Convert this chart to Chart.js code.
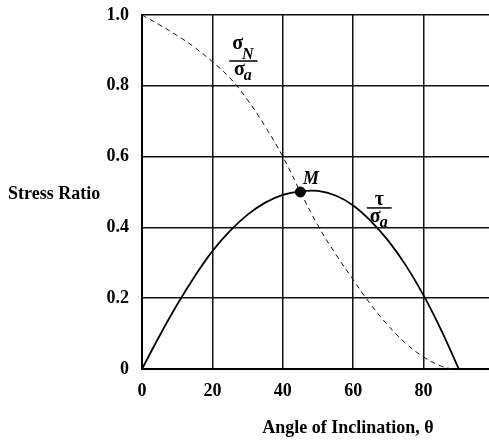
<!DOCTYPE html>
<html>
<head>
<meta charset="utf-8">
<script src="https://cdn.jsdelivr.net/npm/chart.js@4"></script>
<style>
  html, body { margin: 0; padding: 0; background: #fff; overflow: hidden; }
</style>
</head>
<body>
<canvas id="chart" width="500" height="441"></canvas>
<script>
// angle of inclination (deg) and the two stress ratios
const angles = [0, 5, 10, 15, 20, 25, 30, 35, 40, 45, 50, 55, 60, 65, 70, 75, 80, 85, 90];
const shearRatio = [0, 0.094, 0.182, 0.262, 0.333, 0.39, 0.436, 0.47, 0.492, 0.502, 0.503, 0.49, 0.462, 0.418, 0.362, 0.292, 0.208, 0.11, 0];
const normalAngles = [0, 5, 10, 15, 20, 25, 30, 35, 40, 45, 50, 55, 60, 65, 70, 75, 80, 85, 88];
const normalRatio = [1.0, 0.972, 0.942, 0.908, 0.868, 0.822, 0.76, 0.685, 0.6, 0.5, 0.405, 0.325, 0.252, 0.182, 0.122, 0.072, 0.034, 0.008, 0];
const pointM = { x: 45, y: 0.5 };

const xTicks = [0, 20, 40, 60, 80];
const yTicks = [0, 0.2, 0.4, 0.6, 0.8, 1.0];

const serif = "'Liberation Serif', 'Times New Roman', serif";

// text overlays: axis titles, curve labels, M
const labelsPlugin = {
  id: "labels",
  afterDatasetsDraw(chart) {
    const ctx = chart.ctx;
    const x = chart.scales.x;
    const y = chart.scales.y;
    ctx.save();
    ctx.fillStyle = "#000";
    ctx.strokeStyle = "#000";

    // y title (horizontal)
    ctx.font = "bold 18px " + serif;
    ctx.textAlign = "left";
    ctx.textBaseline = "middle";
    ctx.fillText("Stress Ratio", 8, y.getPixelForValue(0.492));

    // x title
    ctx.textAlign = "center";
    ctx.fillText("Angle of Inclination, \u03b8", x.getPixelForValue(58.5), 428);

    // M
    ctx.font = "italic bold 18px " + serif;
    ctx.fillText("M", x.getPixelForValue(48), y.getPixelForValue(0.537));

    // fractions
    drawFrac(ctx, x.getPixelForValue(28.8), y.getPixelForValue(0.87), "\u03c3", "N", true);
    drawFrac(ctx, x.getPixelForValue(67.4), y.getPixelForValue(0.455), "\u03c4", "", false);
    ctx.restore();
  }
};

function drawFrac(ctx, cx, barY, top, topSub, raised) {
  ctx.textBaseline = "alphabetic";
  ctx.textAlign = "left";
  const big = "bold 20px " + serif;
  const sub = "italic bold 16px " + serif;

  // numerator
  ctx.font = big;
  const wTop = ctx.measureText(top).width;
  ctx.font = sub;
  const wSub = topSub ? ctx.measureText(topSub).width : 0;
  const wNum = wTop + wSub;
  ctx.font = big;
  const topBase = raised ? barY - 12 : barY - 3;
  ctx.fillText(top, cx - wNum / 2, topBase);
  if (topSub) {
    ctx.font = sub;
    ctx.fillText(topSub, cx - wNum / 2 + wTop - 1, barY - 2);
  }

  // denominator sigma_a
  ctx.font = big;
  const wS = ctx.measureText("\u03c3").width;
  ctx.font = sub;
  const wA = ctx.measureText("a").width;
  const wDen = wS + wA;
  ctx.font = big;
  ctx.fillText("\u03c3", cx - wDen / 2, barY + 14);
  ctx.font = sub;
  ctx.fillText("a", cx - wDen / 2 + wS - 1, barY + 19);

  // bar
  const w = Math.max(wNum, wDen) + 6;
  ctx.lineWidth = 1.5;
  ctx.beginPath();
  ctx.moveTo(cx - w / 2, barY);
  ctx.lineTo(cx + w / 2, barY);
  ctx.stroke();
}

new Chart(document.getElementById("chart"), {
  type: "line",
  data: {
    datasets: [
      {
        data: normalAngles.map((a, i) => ({ x: a, y: normalRatio[i] })),
        borderColor: "#111",
        borderWidth: 1,
        borderDash: [5, 4],
        pointRadius: 0,
        tension: 0.4,
        fill: false
      },
      {
        data: angles.map((a, i) => ({ x: a, y: shearRatio[i] })),
        borderColor: "#000",
        borderWidth: 1.8,
        pointRadius: 0,
        tension: 0.4,
        fill: false
      },
      {
        data: [pointM],
        showLine: false,
        pointRadius: 5,
        pointBackgroundColor: "#000",
        pointBorderColor: "#000"
      }
    ]
  },
  options: {
    responsive: false,
    animation: false,
    layout: { padding: { top: 15, right: 3, left: 0, bottom: 0 } },
    plugins: { legend: { display: false }, tooltip: { enabled: false } },
    scales: {
      x: {
        type: "linear",
        min: 0,
        max: 100,
        afterBuildTicks(s) { s.ticks = xTicks.concat([100]).map(v => ({ value: v })); },
        afterFit(s) { s.height = 72; s.paddingLeft = 0; s.paddingRight = 0; },
        grid: { color: "#111", lineWidth: 1.5, drawTicks: false },
        border: { display: true, color: "#000", width: 2 },
        ticks: {
          padding: 12,
          color: "#000",
          font: { family: serif, size: 18, weight: "bold" },
          callback: v => (v === 100 ? "" : v)
        }
      },
      y: {
        min: 0,
        max: 1,
        afterBuildTicks(s) { s.ticks = yTicks.map(v => ({ value: v })); },
        afterFit(s) { s.width = 142; s.paddingTop = 0; s.paddingBottom = 0; },
        grid: { color: "#111", lineWidth: 1.5, drawTicks: false },
        border: { display: true, color: "#000", width: 2 },
        ticks: {
          padding: 13,
          color: "#000",
          font: { family: serif, size: 18, weight: "bold" },
          callback: v => (v === 0 ? "0" : v.toFixed(1))
        }
      }
    }
  },
  plugins: [labelsPlugin]
});
</script>
</body>
</html>
